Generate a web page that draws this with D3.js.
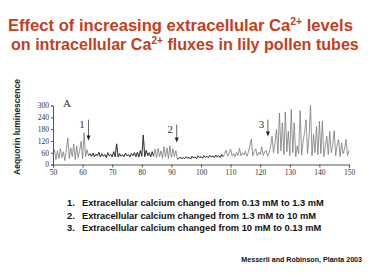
<!DOCTYPE html>
<html>
<head>
<meta charset="utf-8">
<script src="https://cdn.jsdelivr.net/npm/d3@7"></script>
<style>
  body { margin: 0; background: #fff; }
  svg { display: block; }
</style>
</head>
<body>
<svg width="368" height="276"></svg>
<script>
var svg = d3.select('svg');

// sampled trace: one value every 0.5 s starting at 50
var sampleStart = 50;
var sampleStep = 0.5;
var luminescence = [
  // 50 - 62
  45, 75, 25, 70, 30, 80, 35, 65, 20, 75, 136, 30, 85, 40, 105, 25, 95, 35, 70, 118, 30, 161, 40, 75, 45,
  // 62.5 - 84
  55, 42, 58, 40, 52, 45, 62, 38, 55, 42, 50, 35, 60, 44, 52, 38, 65, 40, 105, 38, 55, 42,
  50, 40, 58, 44, 50, 38, 56, 45, 60, 40, 62, 38, 70, 42, 150, 40, 72, 45, 60, 38, 65, 42,
  // 84.5 - 92
  78, 35, 82, 40, 70, 32, 90, 38, 85, 30, 95, 36, 80, 40, 70, 28,
  // 92.5 - 107
  30, 38, 28, 36, 30, 40, 32, 36, 28, 42, 33, 38, 30, 44, 35, 40, 32, 45, 36, 42, 34, 46, 38, 44, 35, 48, 38, 45, 36, 50,
  // 107.5 - 123
  40, 55, 72, 42, 58, 78, 44, 56, 40, 62, 46, 82, 44, 60, 48, 68, 42, 62, 95, 130, 45, 66, 80, 44, 62, 50, 90, 46, 64, 72, 42, 58,
  // 123.5 - 150
  90, 144, 60, 110, 178, 55, 262, 70, 212, 50, 267, 65, 169, 45, 279, 60, 212, 40, 95, 55, 274, 48, 120, 161, 228, 55, 140,
  300, 45, 152, 60, 194, 50, 220, 55, 220, 40, 90, 144, 50, 169, 60, 100, 172, 45, 100, 127, 40, 110, 55, 80, 127, 45, 70
];
var darkSpans = [[62, 84], [92, 107.5]];

var xTicks = [50, 60, 70, 80, 90, 100, 110, 120, 130, 140, 150];
var yTicks = [0, 60, 120, 180, 240, 300];

// arrows marking the solution changes (time, top and tip in data units)
var arrowTimes = [62, 91.8, 122.6];
var arrowLabels = ['1', '2', '3'];
var arrowTop = [228, 203, 228];
var arrowBottom = [122, 112, 142];

var notes = [
  'Extracellular calcium changed from 0.13 mM to 1.3 mM',
  'Extracellular calcium changed from 1.3 mM to 10 mM',
  'Extracellular calcium changed from 10 mM to 0.13 mM'
];

var titleColor = '#c4401c';

// title
var title = svg.append('g')
    .attr('font-family', 'Liberation Sans, Arial, sans-serif')
    .attr('font-weight', 'bold')
    .attr('fill', titleColor);

function titleLine(x, y, size, before, after) {
  var t = title.append('text').attr('x', x).attr('y', y).attr('font-size', size);
  t.append('tspan').text(before);
  t.append('tspan').attr('font-size', size * 0.63).attr('dy', -6).text('2+');
  t.append('tspan').attr('dy', 6).text(after);
}
titleLine(8, 31, 16.6, 'Effect of increasing extracellular Ca', ' levels');
titleLine(11, 50, 16.1, 'on intracellular Ca', ' fluxes in lily pollen tubes');

// scales
var x = d3.scaleLinear().domain([50, 150]).range([53, 349]);
var y = d3.scaleLinear().domain([0, 300]).range([164.5, 105.5]);

var points = luminescence.map(function (v, i) {
  return {t: sampleStart + i * sampleStep, v: v};
});

var line = d3.line()
    .x(function (d) { return x(d.t); })
    .y(function (d) { return y(d.v); });

var plot = svg.append('g');

plot.append('path')
    .datum(points)
    .attr('fill', 'none')
    .attr('stroke', '#7a7a7a')
    .attr('stroke-width', 0.8)
    .attr('d', line);

darkSpans.forEach(function (span) {
  plot.append('path')
      .datum(points.filter(function (d) { return d.t >= span[0] && d.t <= span[1]; }))
      .attr('fill', 'none')
      .attr('stroke', '#2a2a2a')
      .attr('stroke-width', 0.8)
      .attr('d', line);
});

// axes
var xAxis = d3.axisBottom(x).tickValues(xTicks).tickSize(3).tickPadding(2);
var yAxis = d3.axisLeft(y).tickValues(yTicks).tickSize(2).tickPadding(2);

var axisFont = 'Liberation Serif, Times New Roman, serif';

svg.append('g')
    .attr('transform', 'translate(0,' + y(0) + ')')
    .call(xAxis)
    .call(function (g) {
      g.select('.domain').attr('stroke', '#555');
      g.selectAll('.tick line').attr('stroke', '#555');
      g.selectAll('text').attr('font-family', axisFont).attr('font-size', 7.5).attr('fill', '#333');
    });

svg.append('g')
    .attr('transform', 'translate(' + x(50) + ',0)')
    .call(yAxis)
    .call(function (g) {
      g.select('.domain').attr('stroke', '#555');
      g.selectAll('.tick line').attr('stroke', '#555');
      g.selectAll('text').attr('font-family', axisFont).attr('font-size', 7.5).attr('fill', '#333');
    });

// panel letter
svg.append('text')
    .attr('x', 63).attr('y', 107)
    .attr('font-family', axisFont)
    .attr('font-size', 11)
    .attr('fill', '#333')
    .text('A');

// arrows
var arrows = svg.append('g');
arrowTimes.forEach(function (t, i) {
  var ax = x(t);
  var y1 = y(arrowTop[i]);
  var y2 = y(arrowBottom[i]);
  arrows.append('line')
      .attr('x1', ax).attr('x2', ax)
      .attr('y1', y1).attr('y2', y2 - 4)
      .attr('stroke', '#222').attr('stroke-width', 0.7);
  arrows.append('path')
      .attr('d', 'M' + (ax - 2) + ',' + (y2 - 5) + 'L' + (ax + 2) + ',' + (y2 - 5) + 'L' + ax + ',' + y2 + 'Z')
      .attr('fill', '#222');
  arrows.append('text')
      .attr('x', ax - 6.5)
      .attr('y', y1 + 8)
      .attr('text-anchor', 'middle')
      .attr('font-family', axisFont)
      .attr('font-size', 11)
      .attr('fill', '#333')
      .text(arrowLabels[i]);
});

// y label
svg.append('text')
    .attr('transform', 'translate(20,127)rotate(-90)')
    .attr('text-anchor', 'middle')
    .attr('font-family', 'Liberation Sans, Arial, sans-serif')
    .attr('font-weight', 'bold')
    .attr('font-size', 8.5)
    .attr('fill', '#222')
    .text('Aequorin luminescence');

// numbered notes
var noteG = svg.append('g')
    .attr('font-family', 'Liberation Sans, Arial, sans-serif')
    .attr('font-weight', 'bold')
    .attr('font-size', 9.3)
    .attr('fill', '#111');

notes.forEach(function (n, i) {
  noteG.append('text').attr('x', 67).attr('y', 206 + i * 12.5).text((i + 1) + '.');
  noteG.append('text').attr('x', 82).attr('y', 206 + i * 12.5).text(n);
});

svg.append('text')
    .attr('x', 362).attr('y', 262)
    .attr('text-anchor', 'end')
    .attr('font-family', 'Liberation Sans, Arial, sans-serif')
    .attr('font-weight', 'bold')
    .attr('font-size', 7.1)
    .attr('fill', '#111')
    .text('Messerli and Robinson, Planta 2003');
</script>
</body>
</html>
